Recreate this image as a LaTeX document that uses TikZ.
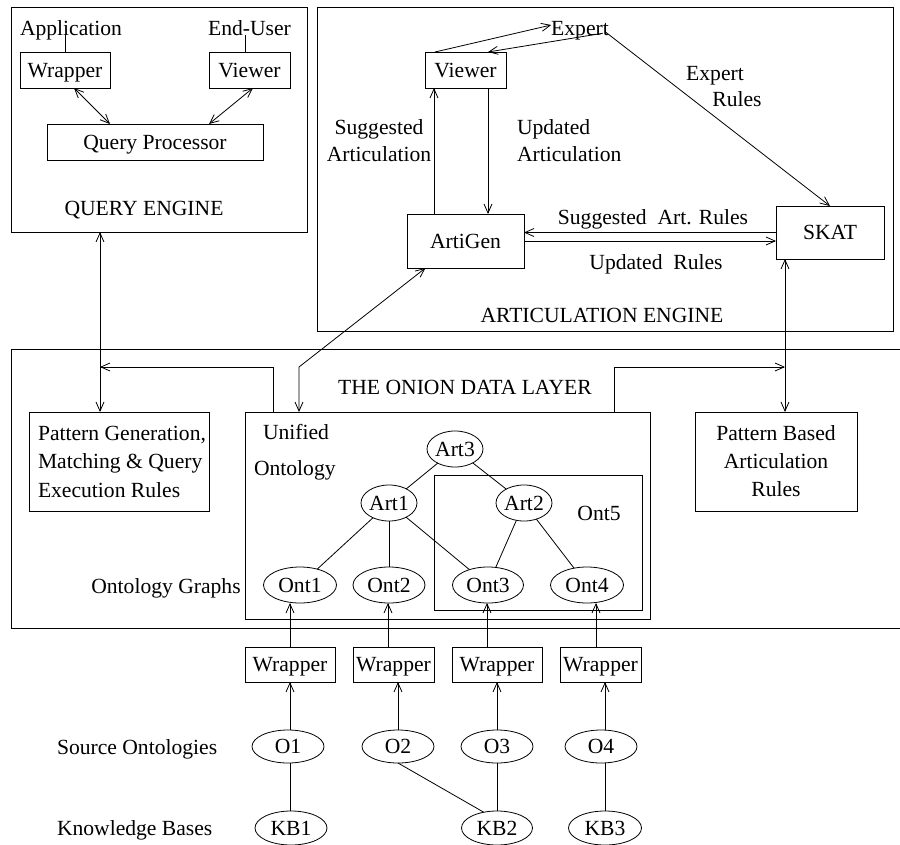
\documentclass[tikz,border=0pt]{standalone}
\usepackage{fontspec}
\setmainfont{Liberation Serif}
\usetikzlibrary{arrows.meta,shapes.geometric}
\begin{document}
\begin{tikzpicture}[x=1pt,y=-1pt,
  line width=0.8pt,
  >={Straight Barb[length=9pt,width=8pt]},
  txt/.style={inner sep=0pt, outer sep=0pt, font=\fontsize{21.6}{27}\selectfont, text height=14.5pt, text depth=0pt},
  txtm/.style={inner sep=0pt, outer sep=0pt, font=\fontsize{21.6}{27}\selectfont},
  box/.style={txt, draw, rectangle},
  oval/.style={txt, draw, ellipse},
]
\useasboundingbox (0,0) rectangle (900,844);

% ---------- big frames ----------
\node[box, minimum width=296pt, minimum height=225pt] (qe) at (159,119.5) {};
\node[box, minimum width=576pt, minimum height=324pt] (ae) at (605,169) {};
\draw (905,349) -| (11,628) -- (905,628);
\node[box, minimum width=405pt, minimum height=207pt] (uni) at (447.5,515.5) {};
\node[box, minimum width=208pt, minimum height=135pt] (ont5box) at (538,542.5) {};
\node[box, minimum width=180pt, minimum height=99pt] (pg) at (119,461.5) {};
\node[box, minimum width=162pt, minimum height=99pt, font=\fontsize{21.6}{28}\selectfont, align=center, text height=, text depth=] (pb) at (776,461.5) {Pattern Based\\Articulation\\Rules};

% ---------- query engine ----------
\node[box, minimum width=90pt, minimum height=36pt] (wq) at (65,70) {Wrapper};
\node[box, minimum width=81pt, minimum height=36pt] (vq) at (249.5,70) {Viewer};
\node[box, minimum width=216pt, minimum height=36pt] (qp) at (155,142) {Query Processor};
\node[txt] (app) at (71,28) {Application};
\node[txt] (eu) at (249.5,28) {End-User};
\node[txt] (qet) at (144,208) {QUERY ENGINE};

% ---------- articulation engine ----------
\node[box, minimum width=81pt, minimum height=36pt] (va) at (465.5,70) {Viewer};
\node[box, minimum width=117pt, minimum height=54pt] (ag) at (465.5,241) {ArtiGen};
\node[box, minimum width=108pt, minimum height=53pt] (skat) at (830,232.5) {SKAT};
\node[txt] (expert) at (580,28) {Expert};
\node[txtm, align=center] (sa) at (379,140.5) {Suggested\\Articulation};
\node[txtm, align=left, anchor=west] (ua) at (517,140.5) {Updated\\Articulation};
\node[txt] (er1) at (715,73) {Expert};
\node[txt] (er2) at (737,99) {Rules};
\node[txt] (sar) at (653,217) {Suggested\ \ Art. Rules};
\node[txt] (ur) at (656,262) {Updated\ \ Rules};
\node[txt] (aet) at (602,315) {ARTICULATION ENGINE};

% ---------- data layer ----------
\node[txt] (odl) at (465,387) {THE ONION DATA LAYER};
\node[txtm, font=\fontsize{21.6}{28.5}\selectfont, align=left, anchor=west] (pgt) at (38,461.5) {Pattern Generation,\\Matching \& Query\\Execution Rules};
\node[txt, anchor=west] (unit) at (263,432) {Unified};
\node[txt, anchor=west] (ontt) at (254,468) {Ontology};
\node[txt] (ont5t) at (599,513) {Ont5};
\node[txt] (ogt) at (166,586) {Ontology Graphs};

\node[oval, minimum width=54pt, minimum height=36pt] (art3) at (455,449) {Art3};
\node[oval, minimum width=55pt, minimum height=36pt] (art1) at (389,503) {Art1};
\node[oval, minimum width=54pt, minimum height=36pt] (art2) at (524,503) {Art2};
\node[oval, minimum width=73pt, minimum height=36pt] (ont1) at (300,585) {Ont1};
\node[oval, minimum width=72pt, minimum height=36pt] (ont2) at (389,585) {Ont2};
\node[oval, minimum width=71pt, minimum height=36pt] (ont3) at (488,585) {Ont3};
\node[oval, minimum width=73pt, minimum height=36pt] (ont4) at (587,585) {Ont4};

% ---------- sources ----------
\node[box, minimum width=90pt, minimum height=35pt] (w1) at (290,664.5) {Wrapper};
\node[box, minimum width=81pt, minimum height=35pt] (w2) at (393.5,664.5) {Wrapper};
\node[box, minimum width=90pt, minimum height=35pt] (w3) at (497,664.5) {Wrapper};
\node[box, minimum width=81pt, minimum height=35pt] (w4) at (600.5,664.5) {Wrapper};
\node[oval, minimum width=72pt, minimum height=33pt] (o1) at (288,746.5) {O1};
\node[oval, minimum width=72pt, minimum height=33pt] (o2) at (398,746.5) {O2};
\node[oval, minimum width=72pt, minimum height=33pt] (o3) at (497,746.5) {O3};
\node[oval, minimum width=72pt, minimum height=33pt] (o4) at (601,746.5) {O4};
\node[oval, minimum width=72pt, minimum height=34pt] (kb1) at (291,828) {KB1};
\node[oval, minimum width=71pt, minimum height=34pt] (kb2) at (497,828) {KB2};
\node[oval, minimum width=73pt, minimum height=34pt] (kb3) at (605,828) {KB3};
\node[txt, anchor=west] (sot) at (57,747) {Source Ontologies};
\node[txt, anchor=west] (kbt) at (57,828) {Knowledge Bases};

% ---------- coordinates ----------
\coordinate (cqx) at (100,0);
\coordinate (cev) at (245,0);
\coordinate (csa) at (434,0);
\coordinate (cua) at (488,0);
\coordinate (cbend) at (299,367);
\coordinate (cl) at (273,0);
\coordinate (clend) at (100,367);
\coordinate (cr) at (614,0);
\coordinate (crend) at (785,367);
\coordinate (crx) at (785,0);
\coordinate (a1) at (290,0);
\coordinate (a2) at (388,0);
\coordinate (a3) at (487,0);
\coordinate (a4) at (596,0);
\coordinate (b1) at (290,0);
\coordinate (b2) at (398,0);
\coordinate (b3) at (497,0);
\coordinate (b4) at (605,0);

% ---------- connectors ----------
\draw (wq.north) -- (wq.north |- app.south);
\draw (vq.north -| cev) -- (eu.south -| cev);
\draw[<->] ([xshift=9pt]wq.south) -- ([xshift=-45pt]qp.north);
\draw[<->] ([xshift=3.5pt]vq.south) -- ([xshift=54pt]qp.north);
\draw[<->] (qe.south -| cqx) -- (pg.north -| cqx);

\draw[->] ([xshift=10pt]va.north west) -- ([yshift=3pt]expert.west);
\draw[->] ([xshift=-6pt,yshift=2pt]expert.south east) -- ([xshift=22.5pt]va.north);
\draw[->] ([xshift=-3pt,yshift=3pt]expert.south east) -- (skat.north);
\draw[->] (ag.north -| csa) -- (va.south -| csa);
\draw[->] (va.south -| cua) -- (ag.north -| cua);
\draw[->] (skat.west) -- (skat.west -| ag.east);
\draw[->] (ag.east) -- (ag.east -| skat.west);
\draw[<->] ([xshift=-40pt]ag.south) -- (cbend) -- (uni.north -| cbend);
\draw[->] (uni.north -| cl) |- (clend);
\draw[->] (uni.north -| cr) |- (crend);
\draw[<->] (skat.south -| crx) -- (pb.north -| crx);

\draw (art3) -- (art1);
\draw (art3) -- (art2);
\draw (art1) -- (ont1);
\draw (art1) -- (ont2);
\draw (art1) -- (ont3);
\draw (art2) -- (ont3);
\draw (art2) -- (ont4);

\draw[->] (w1.north -| a1) -- (ont1.south -| a1);
\draw[->] (w2.north -| a2) -- (ont2.south -| a2);
\draw[->] (w3.north -| a3) -- (ont3.south -| a3);
\draw[->] (w4.north -| a4) -- (ont4.south -| a4);
\draw[->] (o1.north -| b1) -- (w1.south -| b1);
\draw[->] (o2.north -| b2) -- (w2.south -| b2);
\draw[->] (o3.north -| b3) -- (w3.south -| b3);
\draw[->] (o4.north -| b4) -- (w4.south -| b4);
\draw (o1.south -| b1) -- (kb1.north -| b1);
\draw (o2.south) -- (kb2.130);
\draw (o3.south -| b3) -- (kb2.north -| b3);
\draw (o4.south -| b4) -- (kb3.north -| b4);
\end{tikzpicture}
\end{document}
